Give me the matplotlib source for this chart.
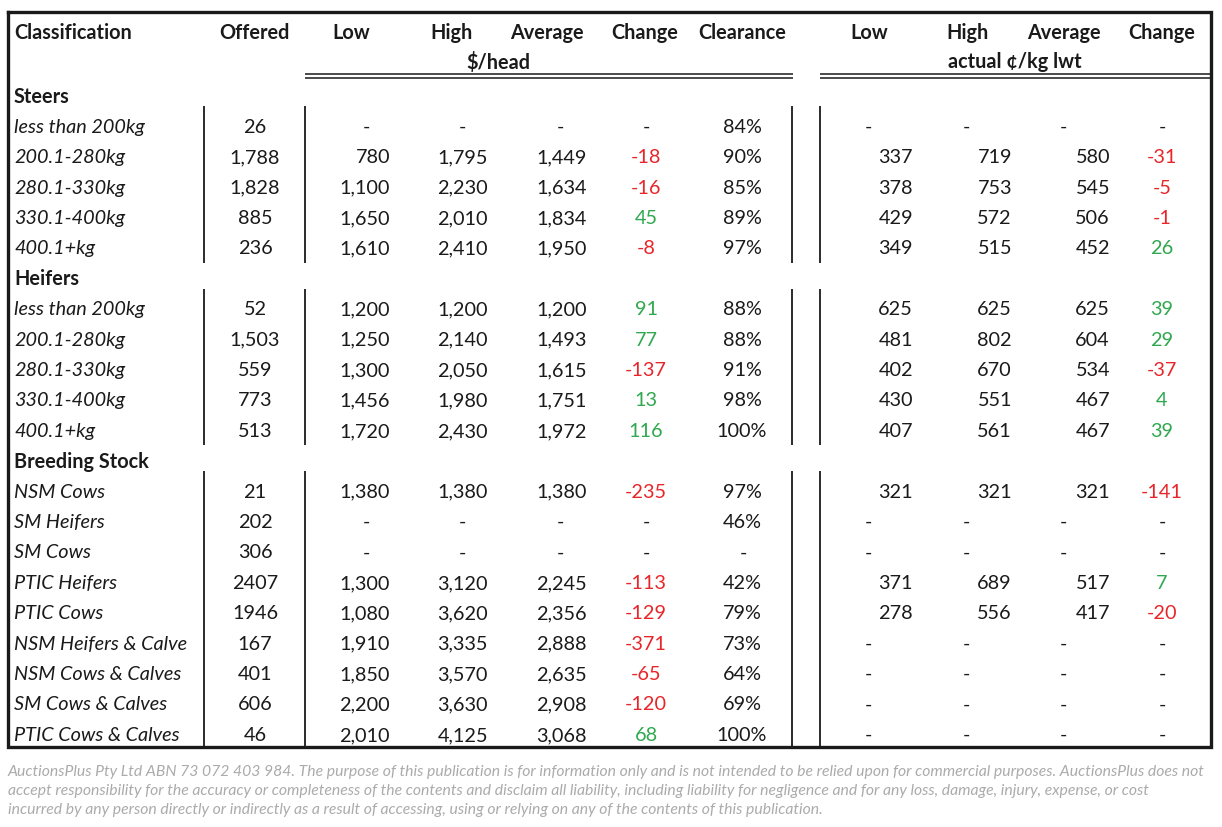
import matplotlib
matplotlib.use("Agg")
import matplotlib.pyplot as plt

# ---------------- data ----------------
sections = ["Steers", "Heifers", "Breeding Stock"]
categories = [
    ["less than 200kg", "200.1-280kg", "280.1-330kg", "330.1-400kg", "400.1+kg"],
    ["less than 200kg", "200.1-280kg", "280.1-330kg", "330.1-400kg", "400.1+kg"],
    ["NSM Cows", "SM Heifers", "SM Cows", "PTIC Heifers", "PTIC Cows",
     "NSM Heifers & Calve", "NSM Cows & Calves", "SM Cows & Calves", "PTIC Cows & Calves"],
]
offered = [
    ["26", "1,788", "1,828", "885", "236"],
    ["52", "1,503", "559", "773", "513"],
    ["21", "202", "306", "2407", "1946", "167", "401", "606", "46"],
]
head_low = [
    [None, 780, 1100, 1650, 1610],
    [1200, 1250, 1300, 1456, 1720],
    [1380, None, None, 1300, 1080, 1910, 1850, 2200, 2010],
]
head_high = [
    [None, 1795, 2230, 2010, 2410],
    [1200, 2140, 2050, 1980, 2430],
    [1380, None, None, 3120, 3620, 3335, 3570, 3630, 4125],
]
head_avg = [
    [None, 1449, 1634, 1834, 1950],
    [1200, 1493, 1615, 1751, 1972],
    [1380, None, None, 2245, 2356, 2888, 2635, 2908, 3068],
]
head_change = [
    [None, -18, -16, 45, -8],
    [91, 77, -137, 13, 116],
    [-235, None, None, -113, -129, -371, -65, -120, 68],
]
clearance = [
    [84, 90, 85, 89, 97],
    [88, 88, 91, 98, 100],
    [97, 46, None, 42, 79, 73, 64, 69, 100],
]
ckg_low = [
    [None, 337, 378, 429, 349],
    [625, 481, 402, 430, 407],
    [321, None, None, 371, 278, None, None, None, None],
]
ckg_high = [
    [None, 719, 753, 572, 515],
    [625, 802, 670, 551, 561],
    [321, None, None, 689, 556, None, None, None, None],
]
ckg_avg = [
    [None, 580, 545, 506, 452],
    [625, 604, 534, 467, 467],
    [321, None, None, 517, 417, None, None, None, None],
]
ckg_change = [
    [None, -31, -5, -1, 26],
    [39, 29, -37, 4, 39],
    [-141, None, None, 7, -20, None, None, None, None],
]

headers = ["Classification", "Offered", "Low", "High", "Average", "Change", "Clearance",
           "Low", "High", "Average", "Change"]
sub_head_left = "$/head"
sub_head_right = "actual \u00a2/kg lwt"
footnote = ("AuctionsPlus Pty Ltd ABN 73 072 403 984. The purpose of this publication is for information only and is not intended to be relied upon for commercial purposes. AuctionsPlus does not\n"
            "accept responsibility for the accuracy or completeness of the contents and disclaim all liability, including liability for negligence and for any loss, damage, injury, expense, or cost\n"
            "incurred by any person directly or indirectly as a result of accessing, using or relying on any of the contents of this publication.")

# ---------------- style ----------------
FONT = "Lato"
FS = 14.3
RED = "#e8262a"
GREEN = "#2fa84f"
BLACK = "#1a1a1a"

W, H = 1222, 828
fig = plt.figure(figsize=(W / 100, H / 100), dpi=100)
ax = fig.add_axes([0, 0, 1, 1])
ax.set_xlim(0, W)
ax.set_ylim(H, 0)
ax.axis("off")

# header x positions (centres)
hx = [14, 254, 351, 451, 547, 645, 742, 869, 967, 1064, 1162]
header_y = 33
for i, (h, x) in enumerate(zip(headers, hx)):
    ax.text(x, header_y, h, ha="left" if i == 0 else "center", va="center",
            fontsize=FS, fontweight="bold", family=FONT, color=BLACK)
ax.text(498, 62, sub_head_left, ha="center", va="center", fontsize=FS,
        fontweight="bold", family=FONT, color=BLACK)
ax.text(1015, 62, sub_head_right, ha="center", va="center", fontsize=FS,
        fontweight="bold", family=FONT, color=BLACK)

# double lines under header
for y in (74.5, 78.5):
    ax.plot([305, 793], [y, y], color=BLACK, lw=1.1, solid_capstyle="butt")
    ax.plot([820, 1210], [y, y], color=BLACK, lw=1.1, solid_capstyle="butt")

# column anchors: (x, alignment)
anchors = {
    "low": (390, "right"), "high": (488, "right"), "avg": (587, "right"),
    "chg": (646, "center"), "clr": (742, "center"),
    "clow": (913, "right"), "chigh": (1012, "right"), "cavg": (1110, "right"),
    "cchg": (1162, "center"),
}
dash_x = {
    "low": 366, "high": 462, "avg": 560, "chg": 646, "clr": 743,
    "clow": 868, "chigh": 966, "cavg": 1063, "cchg": 1162,
}


def fmt(v):
    return f"{v:,}"


row_step = 30.4
y0 = 97
row = 0
seg_bounds = []
for s, sec in enumerate(sections):
    ys = y0 + row * row_step
    ax.text(14, ys, sec, ha="left", va="center", fontsize=FS, fontweight="bold",
            family=FONT, color=BLACK)
    row += 1
    first = y0 + row * row_step
    for i, cat in enumerate(categories[s]):
        y = y0 + row * row_step
        ax.text(14, y, cat, ha="left", va="center", fontsize=FS, style="italic",
                family=FONT, color=BLACK)
        ax.text(255, y, offered[s][i], ha="center", va="center", fontsize=FS,
                family=FONT, color=BLACK)
        cols = [("low", head_low), ("high", head_high), ("avg", head_avg),
                ("chg", head_change), ("clr", clearance),
                ("clow", ckg_low), ("chigh", ckg_high), ("cavg", ckg_avg),
                ("cchg", ckg_change)]
        for key, arr in cols:
            v = arr[s][i]
            if v is None:
                ax.text(dash_x[key], y, "-", ha="center", va="center", fontsize=FS,
                        family=FONT, color=BLACK)
                continue
            color = BLACK
            txt = fmt(v)
            if key in ("chg", "cchg"):
                color = RED if v < 0 else GREEN
            if key == "clr":
                txt = f"{v}%"
            x, ha = anchors[key]
            ax.text(x, y, txt, ha=ha, va="center", fontsize=FS,
                    family=FONT, color=color)
        row += 1
    last = y0 + (row - 1) * row_step
    seg_bounds.append((first - 20, last + 15))

# vertical separators (broken at section headings)
for k, (ya, yb) in enumerate(seg_bounds):
    if k == len(seg_bounds) - 1:
        yb = 748
    for x in (204, 305, 792, 820):
        ax.plot([x, x], [ya, yb], color=BLACK, lw=1.3, solid_capstyle="butt")

# outer border
ax.plot([8, 1211, 1211, 8, 8], [13, 13, 748, 748, 13], color=BLACK, lw=2.4,
        solid_joinstyle="miter")

# footnote
ax.text(8, 765, footnote, ha="left", va="top", fontsize=11.35, style="italic",
        family=FONT, color="#ababab", linespacing=1.45)
ax.set_ylim(H, 0)

fig.savefig("out.png", dpi=100)
